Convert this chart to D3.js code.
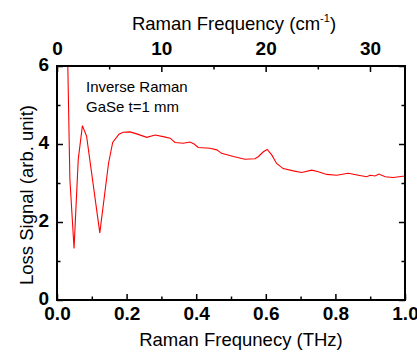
<!DOCTYPE html>
<html>
<head>
<meta charset="utf-8">
<script src="https://cdn.jsdelivr.net/npm/d3@7"></script>
<style>
  body { margin: 0; background: #fff; }
  svg { font-family: "Liberation Sans", Arial, sans-serif; }
</style>
</head>
<body>
<div id="chart"></div>
<script>
// data: frequency in THz, loss signal in arb. units
var freqTHz = [0.028, 0.037, 0.049, 0.061, 0.073, 0.085, 0.123, 0.148, 0.160, 0.178, 0.19, 0.21, 0.229,
  0.258, 0.282, 0.305, 0.325, 0.339, 0.363, 0.382, 0.394, 0.406, 0.44, 0.459, 0.473, 0.507, 0.54,
  0.569, 0.579, 0.593, 0.604, 0.617, 0.631, 0.65, 0.679, 0.703, 0.732, 0.751, 0.775, 0.804, 0.837,
  0.866, 0.89, 0.9, 0.914, 0.925, 0.943, 0.966, 1.0];
var lossSignal = [7.5, 3.1, 1.32, 3.6, 4.47, 4.2, 1.72, 3.5, 4.04, 4.25, 4.3, 4.31, 4.26,
  4.17, 4.23, 4.19, 4.15, 4.04, 4.02, 4.05, 4.0, 3.91, 3.89, 3.85, 3.76, 3.68, 3.61,
  3.62, 3.68, 3.8, 3.86, 3.72, 3.5, 3.37, 3.31, 3.27, 3.33, 3.29, 3.22, 3.2, 3.25,
  3.2, 3.16, 3.2, 3.18, 3.23, 3.16, 3.14, 3.18];
var bottomTicks = [0, 0.2, 0.4, 0.6, 0.8, 1.0];
var bottomMinor = [0.1, 0.3, 0.5, 0.7, 0.9];
var topTicks = [0, 10, 20, 30];
var topMinor = [5, 15, 25];
var leftTicks = [0, 2, 4, 6];
var leftMinor = [1, 3, 5];
var THZ_TO_CM = 33.356;

var margin = {top: 66, right: 12, bottom: 52, left: 57},
    width = 417 - margin.left - margin.right,
    height = 352 - margin.top - margin.bottom;

var x = d3.scaleLinear().domain([0, 1]).range([0, width]);
var x2 = d3.scaleLinear().domain([0, THZ_TO_CM]).range([0, width]);
var y = d3.scaleLinear().domain([0, 6]).range([height, 0]);

var svg = d3.select("#chart").append("svg")
    .attr("width", 417)
    .attr("height", 352)
  .append("g")
    .attr("transform", "translate(" + margin.left + "," + margin.top + ")");

svg.append("clipPath").attr("id", "clip")
  .append("rect").attr("width", width).attr("height", height);

var data = freqTHz.map(function(f, i) { return {f: f, v: lossSignal[i]}; });

var line = d3.line()
    .x(function(d) { return x(d.f); })
    .y(function(d) { return y(d.v); });

svg.append("path")
    .datum(data)
    .attr("clip-path", "url(#clip)")
    .attr("fill", "none")
    .attr("stroke", "#ff0000")
    .attr("stroke-width", 1.1)
    .attr("d", line);

// axes: ticks point inward, minor ticks shorter
function styleAxis(g) {
  g.select(".domain").remove();
  g.selectAll("line").attr("stroke", "#000").attr("stroke-width", 1.5);
  g.selectAll("text").style("font-size", "19px").style("font-weight", "bold").attr("fill", "#000");
}

var bottomPos = "translate(0," + height + ")";
svg.append("g").attr("transform", bottomPos)
    .call(d3.axisBottom(x).tickValues(bottomTicks).tickSize(-6).tickPadding(7).tickFormat(d3.format(".1f")))
    .call(styleAxis);
svg.append("g").attr("transform", bottomPos)
    .call(d3.axisBottom(x).tickValues(bottomMinor).tickSize(-3.5).tickFormat(""))
    .call(styleAxis);

svg.append("g")
    .call(d3.axisTop(x2).tickValues(topTicks).tickSize(-6).tickPadding(11).tickFormat(d3.format("d")))
    .call(styleAxis);
svg.append("g")
    .call(d3.axisTop(x2).tickValues(topMinor).tickSize(-3.5).tickFormat(""))
    .call(styleAxis);

svg.append("g")
    .call(d3.axisLeft(y).tickValues(leftTicks).tickSize(-6).tickPadding(8).tickFormat(d3.format("d")))
    .call(styleAxis)
    .selectAll("text").attr("dy", "0.25em");
svg.append("g")
    .call(d3.axisLeft(y).tickValues(leftMinor).tickSize(-3.5).tickFormat(""))
    .call(styleAxis);

var rightPos = "translate(" + width + ",0)";
svg.append("g").attr("transform", rightPos)
    .call(d3.axisRight(y).tickValues(leftTicks).tickSize(-6).tickFormat(""))
    .call(styleAxis);
svg.append("g").attr("transform", rightPos)
    .call(d3.axisRight(y).tickValues(leftMinor).tickSize(-3.5).tickFormat(""))
    .call(styleAxis);

// frame
svg.append("rect")
    .attr("width", width)
    .attr("height", height)
    .attr("fill", "none")
    .attr("stroke", "#000")
    .attr("stroke-width", 2);

// annotation
svg.append("text").attr("x", 29).attr("y", 26).style("font-size", "15px").text("Inverse Raman");
svg.append("text").attr("x", 29).attr("y", 46).style("font-size", "15px").text("GaSe t=1 mm");

// axis titles
svg.append("text")
    .attr("x", width / 2 + 67 - 57 + 0).attr("y", height + 46)
    .attr("text-anchor", "middle").style("font-size", "18.5px")
    .text("Raman Frequnecy (THz)");

var topTitle = svg.append("text")
    .attr("x", 234 - 57).attr("y", -36.5)
    .attr("text-anchor", "middle").style("font-size", "18.5px");
topTitle.append("tspan").text("Raman Frequency (cm");
topTitle.append("tspan").attr("dy", -8).style("font-size", "11px").text("-1");
topTitle.append("tspan").attr("dy", 8).text(")");

svg.append("text")
    .attr("transform", "translate(" + (-24) + "," + (195 - margin.top) + ") rotate(-90)")
    .attr("text-anchor", "middle").style("font-size", "18.5px")
    .text("Loss Signal (arb. unit)");
</script>
</body>
</html>
